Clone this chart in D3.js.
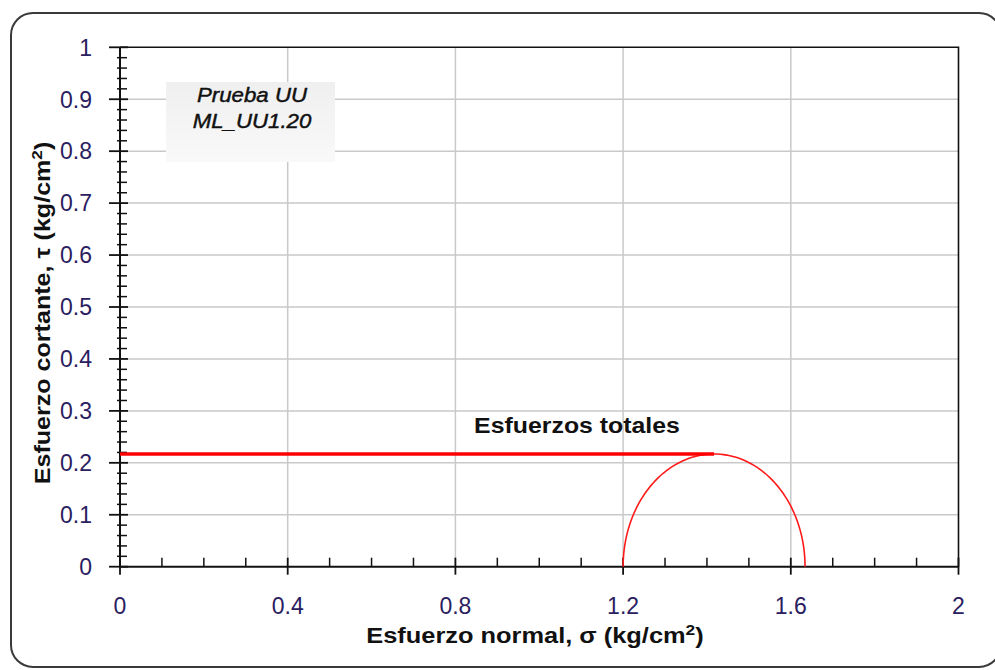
<!DOCTYPE html>
<html>
<head>
<meta charset="utf-8">
<script src="https://cdn.jsdelivr.net/npm/d3@7/dist/d3.min.js"></script>
<style>
  html, body { margin: 0; padding: 0; background: #fff; }
  svg { display: block; }
  text { font-family: "Liberation Sans", Arial, sans-serif; }
</style>
</head>
<body>
<svg id="chart" width="995" height="670"></svg>
<script>
// ---- data ----
const xMajorTicks = [0, 0.4, 0.8, 1.2, 1.6, 2];
const xTickLabels = ["0", "0.4", "0.8", "1.2", "1.6", "2"];
const xMinorTicks = [0.1, 0.2, 0.3, 0.5, 0.6, 0.7, 0.9, 1.0, 1.1, 1.3, 1.4, 1.5, 1.7, 1.8, 1.9];
const yMajorTicks = [0, 0.1, 0.2, 0.3, 0.4, 0.5, 0.6, 0.7, 0.8, 0.9, 1];
const yTickLabels = ["0", "0.1", "0.2", "0.3", "0.4", "0.5", "0.6", "0.7", "0.8", "0.9", "1"];
const yMinorTicks = d3.range(0, 51).map(i => +(i * 0.02).toFixed(2)).filter(v => Math.round(v * 100) % 10 !== 0);
const sigma3 = 1.20;      // kg/cm2, minor principal stress
const sigma1 = 1.634;     // kg/cm2, major principal stress
const envelopeX = [0, (sigma3 + sigma1) / 2];   // total stress envelope (phi = 0)
const labelBox = ["Prueba UU", "ML_UU1.20"];
const envelopeLabel = "Esfuerzos totales";

// ---- layout ----
const svg = d3.select("#chart");
const plot = { left: 120, right: 958.5, top: 47.3, bottom: 566.7 };
const x = d3.scaleLinear().domain([0, 2]).range([plot.left, plot.right]);
const y = d3.scaleLinear().domain([0, 1]).range([plot.bottom, plot.top]);

// outer rounded frame
svg.append("rect")
  .attr("x", 11).attr("y", 13).attr("width", 990).attr("height", 654)
  .attr("rx", 22).attr("ry", 22)
  .attr("fill", "#fff").attr("stroke", "#3a3a3a").attr("stroke-width", 2);

// gridlines
const gridColor = "#c9c9c9";
svg.append("g").selectAll("line").data(xMajorTicks.slice(1, -1)).join("line")
  .attr("x1", d => x(d)).attr("x2", d => x(d))
  .attr("y1", plot.top).attr("y2", plot.bottom)
  .attr("stroke", gridColor).attr("stroke-width", 1.5);
svg.append("g").selectAll("line").data(yMajorTicks.slice(1, -1)).join("line")
  .attr("x1", plot.left).attr("x2", plot.right)
  .attr("y1", d => y(d)).attr("y2", d => y(d))
  .attr("stroke", gridColor).attr("stroke-width", 1.5);

// plot border top/right
svg.append("path")
  .attr("d", `M${plot.left},${plot.top}H${plot.right}V${plot.bottom}`)
  .attr("fill", "none").attr("stroke", "#111").attr("stroke-width", 1.6);

// axes
const tickColor = "#111";
const xAxisG = svg.append("g").attr("transform", `translate(0,${plot.bottom})`);
xAxisG.append("line").attr("x1", plot.left).attr("x2", plot.right).attr("y1", 0).attr("y2", 0)
  .attr("stroke", tickColor).attr("stroke-width", 2);
xAxisG.selectAll(".mj").data(xMajorTicks).join("line").attr("class", "mj")
  .attr("x1", d => x(d)).attr("x2", d => x(d)).attr("y1", -9).attr("y2", 8)
  .attr("stroke", tickColor).attr("stroke-width", 1.8);
xAxisG.selectAll(".mn").data(xMinorTicks).join("line").attr("class", "mn")
  .attr("x1", d => x(d)).attr("x2", d => x(d)).attr("y1", -9).attr("y2", 0)
  .attr("stroke", tickColor).attr("stroke-width", 1.5);
xAxisG.selectAll("text").data(xMajorTicks).join("text")
  .attr("x", d => x(d)).attr("y", 47)
  .attr("text-anchor", "middle")
  .attr("font-size", 23).attr("fill", "#2a2060")
  .text((d, i) => xTickLabels[i]);

const yAxisG = svg.append("g").attr("transform", `translate(${plot.left},0)`);
yAxisG.append("line").attr("x1", 0).attr("x2", 0).attr("y1", plot.top).attr("y2", plot.bottom)
  .attr("stroke", tickColor).attr("stroke-width", 2);
yAxisG.selectAll(".mj").data(yMajorTicks).join("line").attr("class", "mj")
  .attr("x1", -11).attr("x2", 8).attr("y1", d => y(d)).attr("y2", d => y(d))
  .attr("stroke", tickColor).attr("stroke-width", 1.8);
yAxisG.selectAll(".mn").data(yMinorTicks).join("line").attr("class", "mn")
  .attr("x1", -3).attr("x2", 7).attr("y1", d => y(d)).attr("y2", d => y(d))
  .attr("stroke", tickColor).attr("stroke-width", 1.5);
yAxisG.selectAll("text").data(yMajorTicks).join("text")
  .attr("x", -28).attr("y", d => y(d)).attr("dy", "0.36em")
  .attr("text-anchor", "end")
  .attr("font-size", 23).attr("fill", "#2a2060")
  .text((d, i) => yTickLabels[i]);

// axis titles (horizontally widened like the original rendering)
const xt = svg.append("g").attr("transform", "translate(535,643) scale(1.155,1)")
  .append("text").attr("text-anchor", "middle")
  .attr("font-size", 22).attr("font-weight", "bold").attr("fill", "#111");
xt.append("tspan").text("Esfuerzo normal, σ (kg/cm");
xt.append("tspan").attr("baseline-shift", "super").attr("font-size", 15).text("2");
xt.append("tspan").text(")");

const yt = svg.append("g").attr("transform", "translate(50,313) rotate(-90) scale(1.14,1)")
  .append("text").attr("text-anchor", "middle")
  .attr("font-size", 22).attr("font-weight", "bold").attr("fill", "#111");
yt.append("tspan").text("Esfuerzo cortante, τ (kg/cm");
yt.append("tspan").attr("baseline-shift", "super").attr("font-size", 15).text("2");
yt.append("tspan").text(")");

// info box
const defs = svg.append("defs");
const grad = defs.append("linearGradient").attr("id", "boxg").attr("x1", 0).attr("y1", 0).attr("x2", 0).attr("y2", 1);
grad.append("stop").attr("offset", "0%").attr("stop-color", "#efefef");
grad.append("stop").attr("offset", "100%").attr("stop-color", "#f9f9f9");
svg.append("rect").attr("x", 166).attr("y", 82).attr("width", 169).attr("height", 80)
  .attr("fill", "url(#boxg)");
svg.selectAll(".boxt").data(labelBox).join("g").attr("class", "boxt")
  .attr("transform", (d, i) => `translate(252,${102 + i * 26}) scale(1.06,1)`)
  .append("text")
  .attr("text-anchor", "middle").attr("font-size", 21).attr("font-style", "italic")
  .attr("fill", "#111").attr("stroke", "#111").attr("stroke-width", 0.45)
  .text(d => d);

// Mohr circle (upper half)
const c = (sigma3 + sigma1) / 2, r = (sigma1 - sigma3) / 2;
const angles = d3.range(0, 181, 2).map(a => a * Math.PI / 180);
const circ = d3.line()
  .x(a => x(c - r * Math.cos(a)))
  .y(a => y(r * Math.sin(a)));
svg.append("path").attr("d", circ(angles))
  .attr("fill", "none").attr("stroke", "#ff1a1a").attr("stroke-width", 1.6);

// total-stress envelope
svg.append("line")
  .attr("x1", x(envelopeX[0])).attr("x2", x(envelopeX[1]))
  .attr("y1", y(r)).attr("y2", y(r))
  .attr("stroke", "#ff0000").attr("stroke-width", 3.4);

svg.append("g").attr("transform", "translate(577,433) scale(1.13,1)")
  .append("text").attr("text-anchor", "middle")
  .attr("font-size", 22).attr("font-weight", "bold").attr("fill", "#111")
  .text(envelopeLabel);
</script>
</body>
</html>
